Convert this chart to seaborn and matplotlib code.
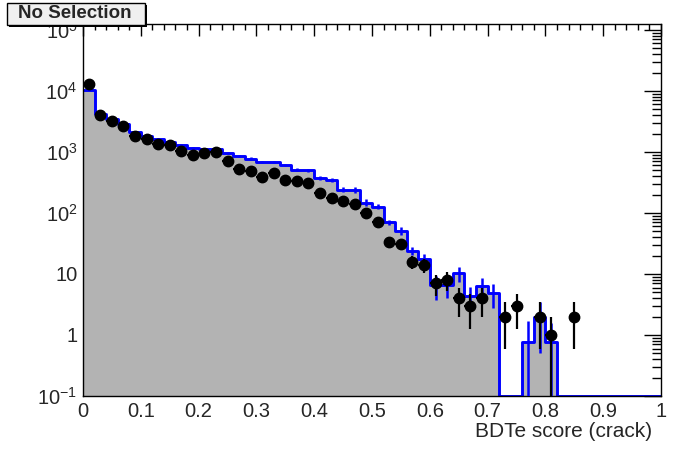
import numpy as np
import pandas as pd
import matplotlib
matplotlib.use("Agg")
import matplotlib.pyplot as plt
from matplotlib.patches import Rectangle
from matplotlib.ticker import MultipleLocator, LogLocator, FixedLocator, NullFormatter
import seaborn as sns

# 50 bins of width 0.02 between 0 and 1
bin_edges = np.linspace(0, 1, 51)
bin_centers = 0.5 * (bin_edges[:-1] + bin_edges[1:])

# simulation (grey filled histogram, blue outline)
mc_counts = [10400, 4150, 3440, 2880, 2130, 1830, 1620, 1450, 1290, 1180,
             1120, 1120, 970, 850, 780, 690, 690, 610, 510, 500,
             380, 350, 240, 240, 148, 127, 70, 51, 24, 17.6,
             6.5, 6.5, 10.2, 4.3, 6.3, 4.8, 0, 0, 0.78, 2.0,
             0.78, 0, 0, 0, 0, 0, 0, 0, 0, 0]
mc_errors = [150, 80, 70, 65, 55, 50, 45, 45, 40, 40,
             38, 38, 35, 35, 33, 30, 30, 30, 28, 28,
             30, 25, 22, 30, 19, 12, 7, 7, 3.5, 3.5,
             2.7, 2.5, 2.8, 1.8, 2.2, 2.0, 0, 0, 0.9, 1.5,
             0.8, 0, 0, 0, 0, 0, 0, 0, 0, 0]

# data (black points)
data_counts = [13000, 4100, 3200, 2700, 1850, 1600, 1350, 1280, 1050, 900,
               970, 980, 700, 520, 490, 390, 460, 350, 330, 310,
               215, 175, 160, 140, 98, 71, 34, 31, 16, 14,
               7, 8, 4, 3, 4, 0, 2, 3, 0, 2,
               1, 0, 2, 0, 0, 0, 0, 0, 0, 0]

mc = np.array(mc_counts, dtype=float)
mc_err = np.array(mc_errors, dtype=float)
data = np.array(data_counts, dtype=float)

ymin, ymax = 0.1, 1.25e5

# empty bins are drawn along the bottom of the frame, as ROOT does
df = pd.DataFrame({"score": bin_centers, "w": np.where(mc > 0, mc, ymin)})
edges = [float(e) for e in bin_edges]

sns.set_theme(style="white")
plt.rcParams["font.family"] = ["Liberation Sans", "DejaVu Sans"]
plt.rcParams["mathtext.fontset"] = "custom"
plt.rcParams["mathtext.rm"] = "Liberation Sans"
plt.rcParams["mathtext.it"] = "Liberation Sans"

fig = plt.figure(figsize=(6.96, 4.72), dpi=100)
ax = fig.add_axes([83 / 696, 76 / 472, 578 / 696, 372 / 472])

sns.histplot(data=df, x="score", weights="w", bins=edges, element="step",
             fill=True, color="#b3b3b3", alpha=1, linewidth=0, ax=ax)
sns.histplot(data=df, x="score", weights="w", bins=edges, element="step",
             fill=False, color="blue", linewidth=2.1, ax=ax)

ok = mc > 0
ax.errorbar(bin_centers[ok], mc[ok], yerr=mc_err[ok], fmt="none",
            ecolor="blue", elinewidth=1.8, capsize=0, zorder=3)

has = data > 0
ax.errorbar(bin_centers[has], data[has], yerr=np.sqrt(data[has]), xerr=0.01,
            fmt="o", color="black", markersize=7.5, elinewidth=1.6,
            capsize=0, zorder=4)

ax.set_yscale("log")
ax.set_xlim(0, 1)
ax.set_ylim(ymin, ymax)

ax.xaxis.set_major_locator(FixedLocator(np.round(np.arange(0, 1.01, 0.1), 1)))
ax.xaxis.set_minor_locator(MultipleLocator(0.02))
ax.set_xticklabels(["0", "0.1", "0.2", "0.3", "0.4", "0.5", "0.6", "0.7",
                    "0.8", "0.9", "1"])
yt = [0.1, 1, 10, 100, 1e3, 1e4, 1e5]
ax.yaxis.set_major_locator(FixedLocator(yt))
ax.yaxis.set_minor_locator(LogLocator(base=10, subs=np.arange(2, 10)))
ax.set_yticklabels([r"$10^{-1}$", "1", "10", r"$10^{2}$", r"$10^{3}$",
                    r"$10^{4}$", r"$10^{5}$"])
ax.yaxis.set_minor_formatter(NullFormatter())

ax.tick_params(which="both", direction="in", top=True, right=True,
               color="black", labelsize=14.5, width=1)
ax.tick_params(axis="x", which="major", length=8.6, pad=4)
ax.tick_params(axis="x", which="minor", length=4.3)
ax.tick_params(axis="y", which="major", length=12.5, pad=4)
ax.tick_params(axis="y", which="minor", length=6.5)
for s in ax.spines.values():
    s.set_color("black")
    s.set_linewidth(1)

ax.set_xlabel("BDTe score (crack)", fontsize=15, loc="right")
ax.xaxis.set_label_coords((652 - 83) / 578, (396 - 422) / 372)
ax.set_ylabel("")
ax.set_facecolor("white")

# ROOT-like title box with shadow
fig.patches.append(Rectangle((9 / 696, 1 - 27 / 472), 138 / 696, 22 / 472,
                             transform=fig.transFigure, facecolor="black",
                             edgecolor="none", zorder=5))
fig.patches.append(Rectangle((7 / 696, 1 - 25 / 472), 138 / 696, 22 / 472,
                             transform=fig.transFigure, facecolor="#f0f0f0",
                             edgecolor="black", linewidth=1, zorder=6))
fig.text(75 / 696, 1 - 14 / 472, "No Selection", ha="center", va="center",
         fontsize=13.5, fontweight="bold", zorder=7)

fig.savefig("out.png", dpi=100)
